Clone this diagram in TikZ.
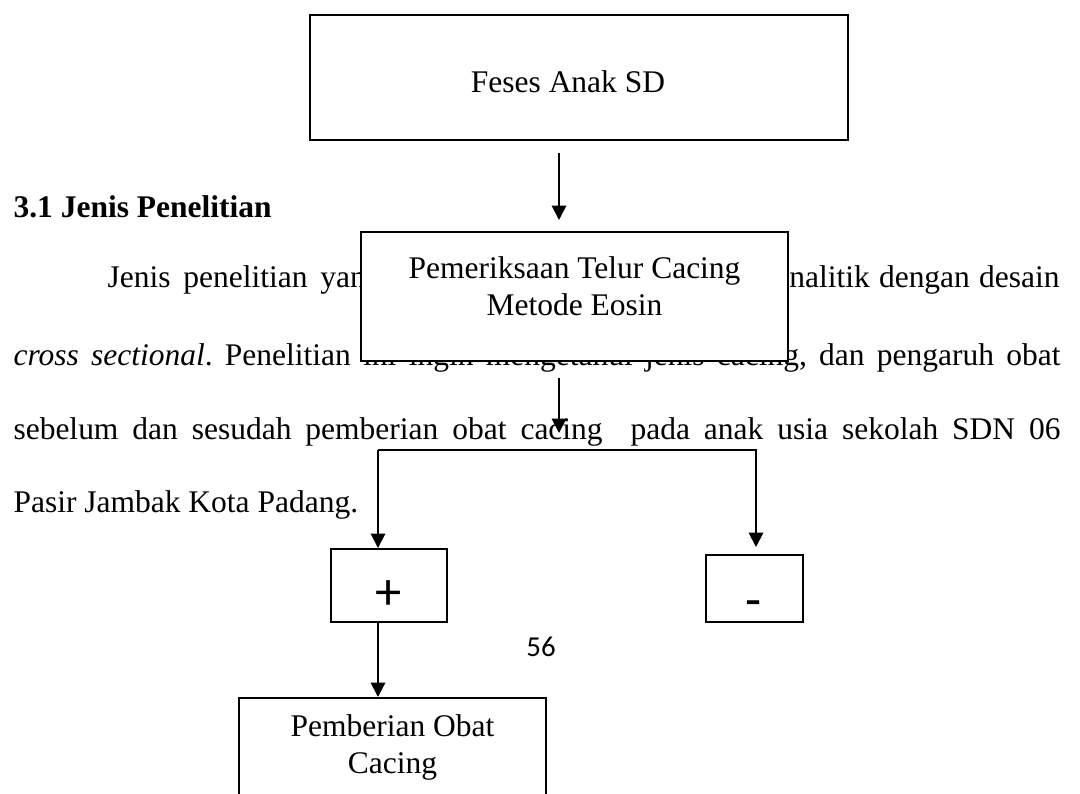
\documentclass[tikz,border=0pt]{standalone}
\usepackage{fontspec}
\setmainfont{Liberation Serif}
\newfontfamily\calibri{Carlito}
\usetikzlibrary{arrows.meta,fit}
\frenchspacing

\tikzset{
  kotak/.style={draw,line width=0.75pt,fill=white,inner sep=0pt},
  isi/.style={inner sep=0pt,font=\fontsize{12}{14.2}\selectfont,align=center},
  baris/.style={inner sep=0pt,anchor=base west,font=\fontsize{12}{14}\selectfont},
  panah/.style={line width=0.75pt,-{Triangle[length=5.5pt,width=5.5pt]}},
}

\begin{document}
\begin{tikzpicture}[x=0.381pt,y=-0.381pt]
		\fill[white] (0,0) rectangle (1080,794);
		\useasboundingbox (0,0) rectangle (1080,794);
		%teks halaman
		\node[baris,font=\fontsize{12}{14}\bfseries] (judul) at (13,218) {3.1 Jenis Penelitian};
		\node[baris] (b1kiri) at (107,287) {\makebox[104.4pt][s]{Jenis penelitian yang}};
		\node[baris,anchor=base east] (b1kanan) at (1060,287) {\makebox[108.2pt][s]{analitik dengan desain}};
		\node[baris] (b2) at (13,365) {\makebox[398.9pt][s]{\textit{cross sectional}. Penelitian ini ingin mengetahui jenis cacing, dan pengaruh obat}};
		\node[baris] (b3) at (13,439) {\makebox[398.9pt][s]{sebelum dan sesudah pemberian obat cacing~ pada anak usia sekolah SDN 06}};
		\node[baris] (b4) at (13,512) {Pasir Jambak Kota Padang.};
		%kotak
		\node[kotak,fit={(310,15) (848,140)}] (feses) {};
		\node[isi,anchor=base] (fesestxt) at (568,93) {Feses Anak SD};
		\node[kotak,fit={(361,232) (788,361)}] (periksa) {};
		\node[isi,anchor=north] (periksatxt) at (574.5,256) {Pemeriksaan Telur Cacing\\Metode Eosin};
		\node[kotak,fit={(331,549) (447,622)}] (positif) {};
		\node[inner sep=0pt,anchor=base,font=\calibri\fontsize{20}{24}\selectfont] (plus) at (389,609) {+};
		\node[kotak,fit={(706,555) (803,622)}] (negatif) {};
		\node[inner sep=0pt,anchor=base,font=\calibri\fontsize{20}{24}\selectfont] (minus) at (754,617) {-};
		\node[kotak,fit={(239,698) (546,830)}] (obat) {};
		\node[isi,anchor=north] (obattxt) at (392.5,714) {Pemberian Obat\\Cacing};
		\node[inner sep=0pt,font=\calibri\fontsize{11}{13}\selectfont] (hal) at (541,647) {56};
		%panah
		\coordinate (p1a) at (559,153);
		\coordinate (p1b) at (559,220);
		\coordinate (p2a) at (559,378);
		\coordinate (p2b) at (559,433);
		\coordinate (cabang) at (378,450);
		\coordinate (cabangkanan) at (756,450);
		\draw[panah] (p1a) -- (p1b);
		\draw[panah] (p2a) -- (p2b);
		\draw[panah] (cabangkanan |- negatif.north) ++(0,-7) coordinate (tmp) (cabang) -- (cabangkanan) -- (tmp);
		\draw[panah] (cabang) -- (cabang |- positif.north);
		\draw[panah] (positif.south -| cabang) -- (cabang |- obat.north);
\end{tikzpicture}
\end{document}
